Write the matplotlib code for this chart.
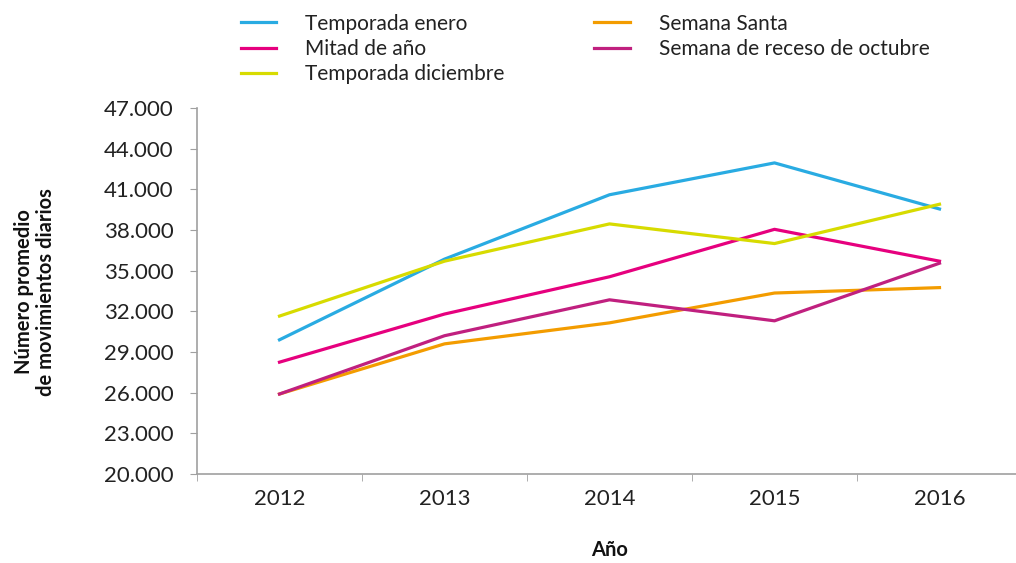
import matplotlib.pyplot as plt
from matplotlib.ticker import FuncFormatter, FixedLocator

plt.rcParams['font.family'] = ['Lato', 'DejaVu Sans']

years = ['2012', '2013', '2014', '2015', '2016']
enero = [29900, 35850, 40600, 42950, 39550]
mitad = [28250, 31800, 34550, 38050, 35700]
diciembre = [31650, 35700, 38450, 37000, 39900]
santa = [25900, 29600, 31150, 33350, 33750]
octubre = [25900, 30200, 32850, 31300, 35550]

fig = plt.figure(figsize=(10.16, 5.63), dpi=100)
ax = fig.add_axes([197 / 1016, 89 / 563, 825 / 1016, 366 / 563])

x = range(len(years))
lw = 2.3
l1, = ax.plot(x, enero, color='#29ABE2', lw=lw, label='Temporada enero')
l2, = ax.plot(x, mitad, color='#E6007E', lw=lw, label='Mitad de año')
l3, = ax.plot(x, diciembre, color='#D7DB00', lw=lw, label='Temporada diciembre')
l4, = ax.plot(x, santa, color='#F39C00', lw=lw, label='Semana Santa')
l5, = ax.plot(x, octubre, color='#C0207F', lw=lw, label='Semana de receso de octubre')

ax.set_xlim(-0.5, 4.5)
ax.set_ylim(20000, 47000)
ax.set_yticks(range(20000, 47001, 3000))
ax.yaxis.set_major_formatter(FuncFormatter(lambda v, p: f'{int(v):,}'.replace(',', '.')))
ax.set_xticks(list(x))
ax.set_xticklabels(years)
ax.xaxis.set_minor_locator(FixedLocator([-0.5, 0.5, 1.5, 2.5, 3.5, 4.5]))
ax.tick_params(axis='x', which='major', length=0, pad=11, labelsize=16, colors='#222222')
ax.tick_params(axis='x', which='minor', length=5, color='#A0A0A0', direction='out')
ax.tick_params(axis='y', length=5, color='#A0A0A0', labelsize=16, labelcolor='#222222', pad=12)

for s in ['top', 'right']:
    ax.spines[s].set_visible(False)
for s in ['left', 'bottom']:
    ax.spines[s].set_color('#A0A0A0')
    ax.spines[s].set_linewidth(1.2)

fig.text(35 / 1016, 1 - 292 / 563, 'Número promedio\nde movimientos diarios', rotation=90,
         ha='center', va='center', fontsize=14.5, fontweight='bold', color='#111111',
         linespacing=1.1)
fig.text(610 / 1016, 1 - 550 / 563, 'Año', ha='center', va='center',
         fontsize=14.5, fontweight='bold', color='#111111')

handles = [l1, l2, l3, l4, l5]
leg = fig.legend(handles=handles, loc='upper left', bbox_to_anchor=(222 / 1016, 1.0 + 5 / 563),
                 ncol=2, frameon=False, fontsize=15, handlelength=1.7,
                 handletextpad=1.4, columnspacing=4.3, labelspacing=0.25)
for t in leg.get_texts():
    t.set_color('#222222')

fig.savefig('out.png', dpi=100)
